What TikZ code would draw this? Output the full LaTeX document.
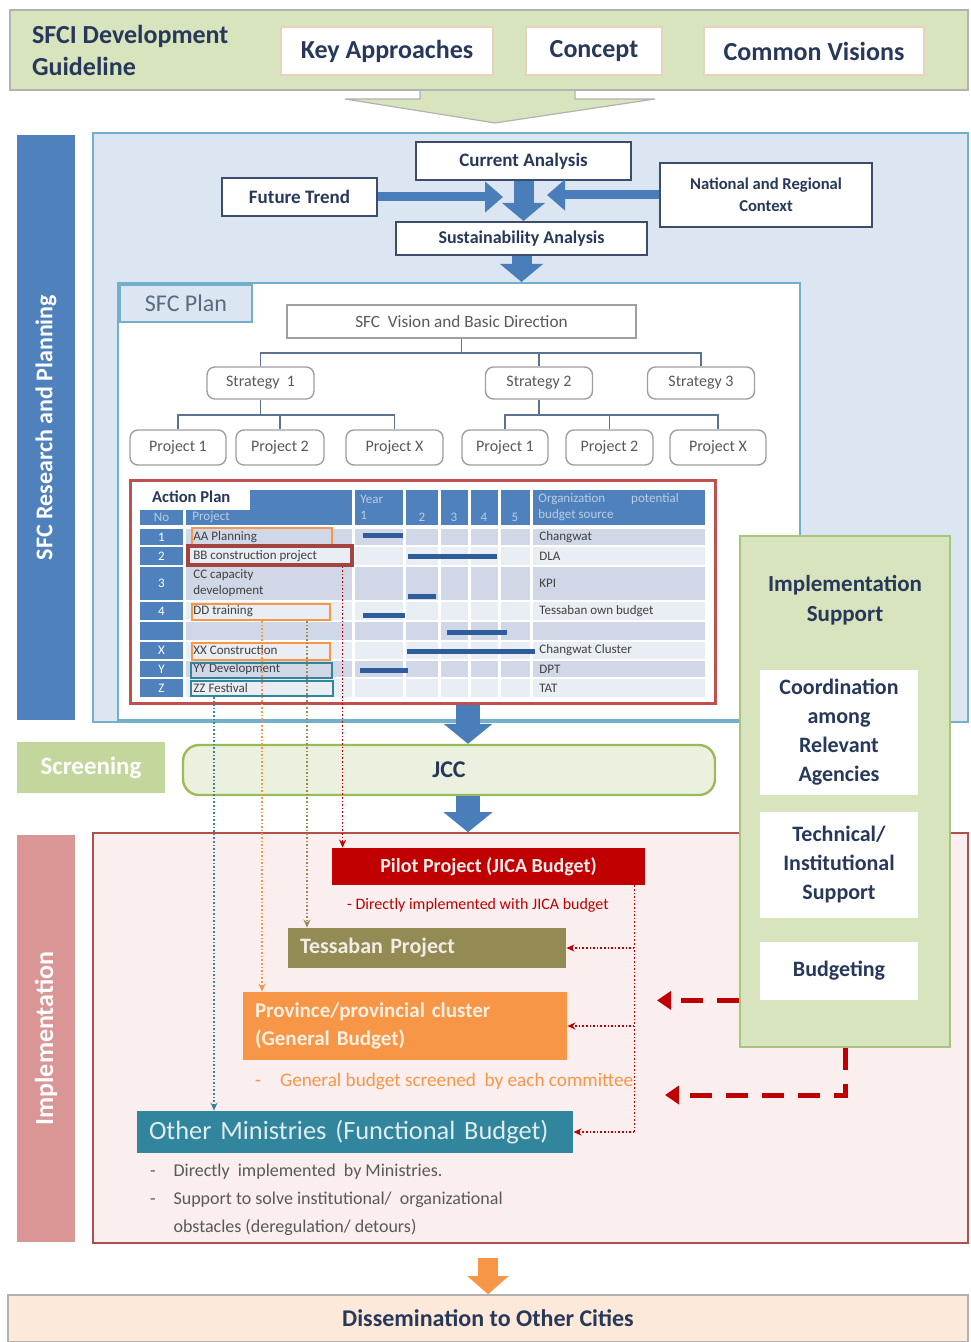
\documentclass[tikz,border=0pt]{standalone}
\usepackage{fontspec}
\setmainfont{Carlito}
\usepackage{tikz}
\usetikzlibrary{arrows.meta,positioning,calc}

\definecolor{ink}{HTML}{27385A}
\definecolor{slate}{HTML}{5C7390}
\definecolor{guidegreen}{HTML}{D7E4BD}
\definecolor{barblue}{HTML}{4F81BD}
\definecolor{panelblue}{HTML}{DCE6F2}
\definecolor{edgeblue}{HTML}{74AFC9}
\definecolor{arrowblue}{HTML}{4A7EBB}
\definecolor{ganttblue}{HTML}{2F5C9A}
\definecolor{rowdark}{HTML}{D0D8E8}
\definecolor{rowlight}{HTML}{E9EDF4}
\definecolor{headtext}{HTML}{B9CDE5}
\definecolor{planred}{HTML}{C0504D}
\definecolor{screengreen}{HTML}{C3D69B}
\definecolor{jccfill}{HTML}{EBF1DE}
\definecolor{jccedge}{HTML}{9BBB59}
\definecolor{implred}{HTML}{D99694}
\definecolor{implfill}{HTML}{FAEEEE}
\definecolor{impledge}{HTML}{B0504D}
\definecolor{pilotred}{HTML}{C00000}
\definecolor{tessolive}{HTML}{948A54}
\definecolor{provorange}{HTML}{F79646}
\definecolor{ministeal}{HTML}{31859C}
\definecolor{supedge}{HTML}{A9C47F}
\definecolor{dissfill}{HTML}{FDE9D9}
\definecolor{graytext}{HTML}{595959}
\definecolor{tabtext}{HTML}{5A6B80}

\tikzset{
  wh/.style 2 args={minimum width={#1*0.5pt}, minimum height={#2*0.5pt}},
  topbox/.style={draw=brown!35, fill=white, line width=0.8pt, text=ink,
    font=\fontsize{13}{15}\selectfont\bfseries},
  anabox/.style={draw=ink!90, fill=white, line width=1pt, text=ink, align=center},
  treebox/.style={draw=gray!75, fill=white, line width=0.7pt, text=graytext,
    font=\fontsize{8}{9.5}\selectfont},
  treeline/.style={draw=slate, line width=0.8pt},
  sidearrow/.style={arrowblue, line width=4.5pt, -{Triangle[length=9pt,width=15pt]}},
  downarrow/.style={arrowblue, line width=10pt, -{Triangle[length=9pt,width=21pt]}},
  jccarrow/.style={arrowblue, line width=12pt, -{Triangle[length=10pt,width=24pt]}},
  cell/.style={inner sep=1pt, font=\fontsize{6.5}{8}\selectfont, text=black!75},
  headcell/.style={inner sep=1pt, font=\fontsize{6.5}{8}\selectfont, text=headtext},
  hlbox/.style={draw=#1, line width=1pt, inner sep=0pt},
  linkdot/.style={draw=#1, densely dotted, line width=0.8pt, -{Stealth[length=4pt,width=3.5pt]}},
  implbox/.style={fill=#1, inner xsep=6pt, align=left, text=white!85!#1},
  bigdash/.style={pilotred, line width=2.5pt, dash pattern=on 11pt off 7pt,
    -{Triangle[length=7pt,width=9pt]}},
  supbox/.style={fill=white, text=ink, align=center, font=\fontsize{11}{14.5}\selectfont\bfseries}
}

\begin{document}
\begin{tikzpicture}[x=0.5pt, y=-0.5pt]
  \useasboundingbox (0,0) rectangle (970,1342);

  % SFCI guideline band
  \node[draw=gray!60, fill=guidegreen, line width=0.8pt, wh={958}{80}] (guide) at (489,50) {};
  \node[anchor=west, align=left, text=ink, font=\fontsize{13}{16}\selectfont\bfseries]
    (guidetitle) at (25,50) {SFCI Development\\Guideline};
  \node[topbox, wh={212}{48}] (keyapp) at (387,51) {Key Approaches};
  \node[topbox, wh={136}{48}] (concept) at (594,51) {Concept};
  \node[topbox, wh={220}{48}] (visions) at (814,51) {Common Visions};
  \filldraw[fill=guidegreen, draw=gray!60, line width=0.6pt]
    (420,91) -- (420,99) -- (345,99) -- (495,123) -- (655,99) -- (575,99) -- (575,91);

  % research and planning
  \node[fill=barblue, wh={58}{585}] (rbar) at (46,427.5) {};
  \node[rotate=90, text=white, font=\fontsize{12}{14}\selectfont\bfseries] (rlabel)
    at (rbar.center) {SFC Research and Planning};
  \node[draw=edgeblue, fill=panelblue, line width=1pt, wh={875}{589}] (rpanel) at (530.5,427.5) {};

  \node[anabox, wh={215}{38}, font=\fontsize{9.5}{11}\selectfont\bfseries] (current) at (523.5,161) {Current Analysis};
  \node[anabox, wh={155}{38}, font=\fontsize{9.5}{11}\selectfont\bfseries] (future) at (299.5,197) {Future Trend};
  \node[anabox, wh={212}{64}, font=\fontsize{8.3}{11}\selectfont\bfseries] (natreg) at (766,195) {National and Regional\\Context};
  \node[anabox, wh={251}{33}, font=\fontsize{9}{11}\selectfont\bfseries] (sustain) at (521.5,238.5) {Sustainability Analysis};

  % SFC plan
  \node[draw=edgeblue, fill=white, line width=1pt, wh={682}{437}] (plan) at (459,501.5) {};
  \node[draw=edgeblue, fill=panelblue, line width=1pt, wh={132}{37}, text=tabtext,
    font=\fontsize{12}{14}\selectfont] (plantab) at (186,303.5) {SFC Plan};

  \draw[sidearrow] (future.east) -- ++(125,0);
  \draw[sidearrow] (natreg.west) -- ++(-112,0);
  \draw[downarrow] (current.south) -- (current.south |- sustain.north);
  \draw[downarrow] (sustain.south) -- (sustain.south |- plan.north);

  \node[draw=gray!75, fill=white, line width=0.7pt, wh={349}{33}, text=graytext,
    font=\fontsize{8.6}{10}\selectfont] (vision) at (461.5,321.5) {SFC\ \ Vision and Basic Direction};
  \node[treebox, rounded corners=4pt, wh={107}{32}] (s1) at (260.5,383) {Strategy\ \ 1};
  \node[treebox, rounded corners=4pt, wh={107}{32}] (s2) at (539,383) {Strategy 2};
  \node[treebox, rounded corners=4pt, wh={107}{32}] (s3) at (701,383) {Strategy 3};
  \node[treebox, rounded corners=4pt, wh={96}{35}] (p1) at (178,447.5) {Project 1};
  \node[treebox, rounded corners=4pt, wh={88}{35}] (p2) at (280,447.5) {Project 2};
  \node[treebox, rounded corners=4pt, wh={97}{35}] (px) at (394.5,447.5) {Project X};
  \node[treebox, rounded corners=4pt, wh={86}{35}] (q1) at (505,447.5) {Project 1};
  \node[treebox, rounded corners=4pt, wh={87}{35}] (q2) at (609.5,447.5) {Project 2};
  \node[treebox, rounded corners=4pt, wh={96}{35}] (qx) at (718,447.5) {Project X};

  \draw[treeline] (vision.south) -- ++(0,14) coordinate (vbus);
  \foreach \s in {s1,s2,s3} \draw[treeline] (\s.north) |- (vbus);
  \draw[treeline] (s1.south) -- ++(0,15) coordinate (sbus1);
  \foreach \p in {p1,p2,px} \draw[treeline] (\p.north) |- (sbus1);
  \draw[treeline] (s2.south) -- ++(0,15) coordinate (sbus2);
  \foreach \p in {q1,q2,qx} \draw[treeline] (\p.north) |- (sbus2);

  % action plan table
  \node[draw=planred, fill=white, line width=1.5pt, wh={585}{223}] (aplan) at (422.5,591.5) {};
  \fill[barblue] (250,490) rectangle (705,510);
  \fill[barblue] (140,510) rectangle (705,525);

  \foreach \yt/\yb/\shade/\no/\proj/\org [count=\i] in {
      529/545/rowdark/1/AA Planning/Changwat,
      547/565/rowlight/2/BB construction project/DLA,
      567/600/rowdark/3/{CC capacity\\development}/KPI,
      602/620/rowlight/4/DD training/Tessaban own budget,
      622/640/rowdark/{}/{}/{},
      642/659/rowlight/X/XX Construction/Changwat Cluster,
      661/677/rowdark/Y/YY Development/DPT,
      679/697/rowlight/Z/ZZ Festival/TAT} {
    \fill[\shade] (140,\yt) rectangle (705,\yb);
    \fill[barblue] (140,\yt) rectangle (183,\yb);
  }
  \draw[white, line width=1.5pt] (184.5,510) -- (184.5,697);
  \foreach \x in {353.5,404.5,439.5,469.5,499.5,531.5}
    \draw[white, line width=1.5pt] (\x,490) -- (\x,697);
  \foreach \yt/\yb/\no/\proj/\org [count=\i] in {
      529/545/1/AA Planning/Changwat,
      547/565/2/BB construction project/DLA,
      567/600/3/{CC capacity\\development}/KPI,
      602/620/4/DD training/Tessaban own budget,
      622/640/{}/{}/{},
      642/659/X/XX Construction/Changwat Cluster,
      661/677/Y/YY Development/DPT,
      679/697/Z/ZZ Festival/TAT} {
    \node[cell, text=white] (no\i) at (161.5,{(\yt+\yb)/2}) {\no};
    \node[cell, anchor=west, align=left] (proj\i) at (191,{(\yt+\yb)/2}) {\proj};
    \node[cell, anchor=west] (org\i) at (537,{(\yt+\yb)/2}) {\org};
  }
  \foreach \xa/\xb/\yy in {363/403/535, 408/497/556, 408/436/596, 363/405/615,
      447/507/632, 407/535/651, 360/408/670}
    \fill[ganttblue] (\xa,\yy-2.5) rectangle (\xb,\yy+2.5);

  \node[anchor=west, text=ink, font=\fontsize{8.3}{10}\selectfont\bfseries] (aptitle) at (145,497) {Action Plan};
  \node[headcell] (hno) at (161.5,517.5) {No};
  \node[headcell, anchor=west] (hproj) at (190,517.5) {Project};
  \node[headcell, anchor=west, align=left] (hyear) at (358,507.5) {Year\\1};
  \foreach \x/\n in {422/2,454/3,484/4,515/5}
    \node[headcell] (hy\n) at (\x,517.5) {\n};
  \node[headcell, anchor=west, align=left] (horg) at (536,507) {Organization\qquad potential\\budget source};

  \node[hlbox=provorange, wh={140}{17}] (hlAA) at (262,536.5) {};
  \node[hlbox=planred!85!black, line width=1.6pt, wh={164}{19}] (hlBB) at (270,555.5) {};
  \node[hlbox=provorange, wh={138}{16}] (hlDD) at (261,612) {};
  \node[hlbox=provorange, wh={138}{17}] (hlXX) at (261,651.5) {};
  \node[hlbox=ministeal, wh={141}{15}] (hlYY) at (261.5,670.5) {};
  \node[hlbox=ministeal, wh={142}{15}] (hlZZ) at (262,688.5) {};

  % screening
  \node[fill=screengreen, wh={148}{51}, text=white, font=\fontsize{12.5}{14}\selectfont\bfseries]
    (screen) at (91,767.5) {Screening};
  \node[draw=jccedge, fill=jccfill, line width=1.2pt, rounded corners=8pt, wh={532}{50},
    text=ink, font=\fontsize{12}{14}\selectfont\bfseries] (jcc) at (449,770) {JCC};
  \coordinate (spine) at (468,0);
  \draw[jccarrow] (aplan.south -| spine) -- (jcc.north -| spine);

  % implementation
  \node[fill=implred, wh={58}{407}] (ibar) at (46,1038.5) {};
  \node[rotate=90, text=white, font=\fontsize{13}{15}\selectfont\bfseries] (ilabel)
    at (ibar.center) {Implementation};
  \node[draw=impledge, fill=implfill, line width=0.8pt, wh={875}{410}] (ipanel) at (530.5,1038) {};
  \draw[jccarrow] (jcc.south -| spine) -- (ipanel.north -| spine);

  \node[fill=pilotred, wh={313}{37}, text=white!92!pilotred,
    font=\fontsize{10}{12}\selectfont\bfseries] (pilot) at (488.5,866.5) {Pilot Project (JICA Budget)};
  \node[anchor=west, text=pilotred, font=\fontsize{8}{10}\selectfont] (pilotnote)
    at (340,905) {- Directly implemented with JICA budget};
  \node[implbox=tessolive, wh={278}{40}, text width=127pt,
    font=\fontsize{11}{13}\selectfont\bfseries] (tess) at (427,948) {Tessaban Project};
  \node[implbox=provorange, wh={324}{68}, text width=150pt,
    font=\fontsize{10.5}{14}\selectfont\bfseries] (prov) at (405,1026)
    {Province/provincial cluster\\(General Budget)};
  \node[anchor=west, text=provorange, font=\fontsize{9.6}{11}\selectfont] (provnote)
    at (248,1081) {-\quad General budget screened\ \ by each committee};
  \node[implbox=ministeal, wh={436}{42}, text width=206pt,
    font=\fontsize{13.2}{15}\selectfont] (other) at (355,1132) {Other Ministries (Functional Budget)};
  \node[anchor=north west, align=left, text=graytext, font=\fontsize{9}{14}\selectfont] (othernote)
    at (143,1157) {-\quad Directly\ \ implemented\ \ by Ministries.\\
      -\quad Support to solve institutional/\ \ organizational\\
      \phantom{-\quad}obstacles (deregulation/ detours)};

  % links from the action plan
  \draw[linkdot=pilotred] ([xshift=-5.5pt]hlBB.south east) -- ([xshift=-5.5pt]hlBB.south east |- pilot.north);
  \draw[linkdot=tessolive] ([xshift=58pt]hlDD.south west) -- ([xshift=58pt]hlDD.south west |- tess.north);
  \draw[linkdot=provorange] ([xshift=35.5pt]hlDD.south west) -- ([xshift=35.5pt]hlDD.south west |- prov.north);
  \draw[linkdot=ministeal] ([xshift=12pt]hlZZ.south west) -- ([xshift=12pt]hlZZ.south west |- other.north);

  \coordinate (rv) at ([xshift=-5.5pt]pilot.south east |- other.east);
  \draw[draw=pilotred, densely dotted, line width=0.8pt] ([xshift=-5.5pt]pilot.south east) -- (rv);
  \draw[linkdot=pilotred] (rv) -- (other.east);
  \draw[linkdot=pilotred] (rv |- tess.east) -- (tess.east);
  \draw[linkdot=pilotred] (rv |- prov.east) -- (prov.east);

  % implementation support
  \node[draw=supedge, fill=guidegreen, line width=1pt, wh={210}{511}] (support) at (845,791.5) {};
  \node[text=ink, align=center, font=\fontsize{11.5}{15}\selectfont\bfseries] (suptitle)
    at (845,600) {Implementation\\Support};
  \node[supbox, wh={158}{125}] (coord) at (839,732.5) {Coordination\\among\\Relevant\\Agencies};
  \node[supbox, wh={158}{106}] (tech) at (839,865) {Technical/\\Institutional\\Support};
  \node[supbox, wh={158}{58}] (budget) at (839,971) {Budgeting};
  \draw[bigdash] (support.west |- budget.south) -- ++(-82,0);
  \draw[bigdash] (support.south) -- ++(0,47) -- ++(-180,0);

  % dissemination
  \node[draw=gray!60, fill=dissfill, line width=0.8pt, wh={960}{47}, text=ink,
    font=\fontsize{12}{14}\selectfont\bfseries] (diss) at (488,1318.5) {Dissemination to Other Cities};
  \draw[provorange, line width=10pt, -{Triangle[length=9pt,width=20pt]}]
    ([yshift=-7pt]ipanel.south -| diss.north) -- (diss.north);
\end{tikzpicture}
\end{document}
